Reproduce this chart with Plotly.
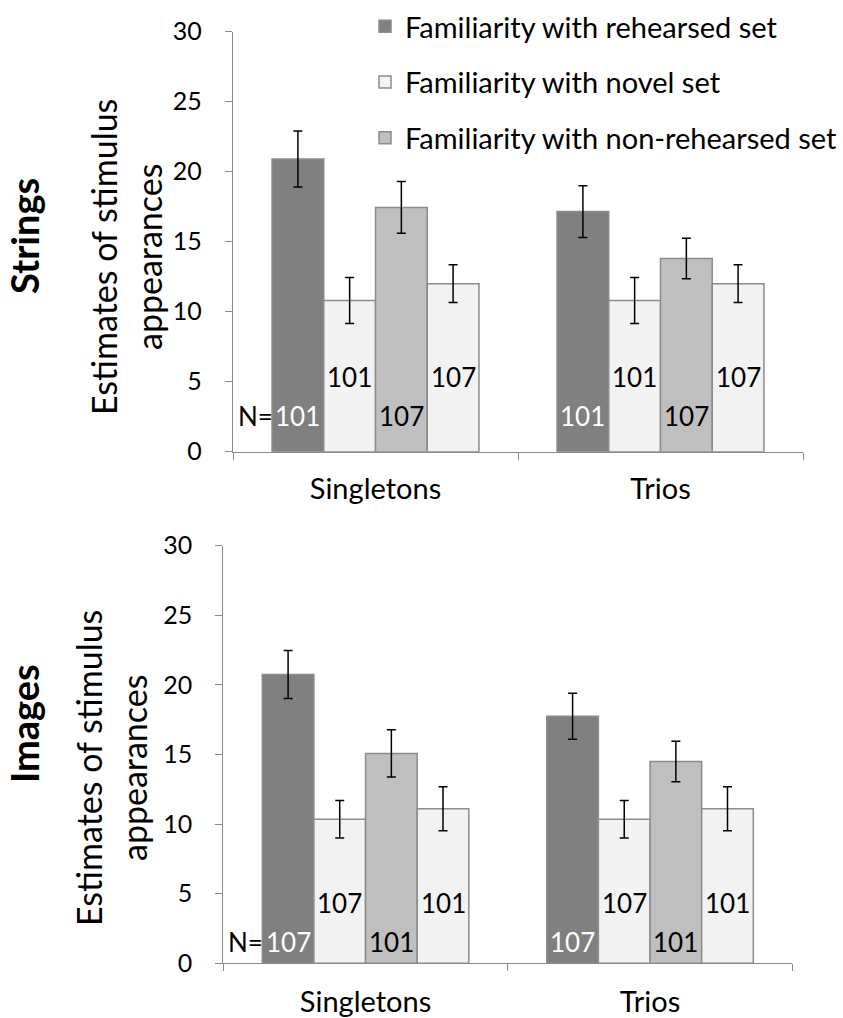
import plotly.graph_objects as go

categories = ["Singletons", "Trios"]
series_names = ["Familiarity with rehearsed set", "Familiarity with novel set",
                "Familiarity with non-rehearsed set", "Familiarity with novel set"]
series_colors = ["#808080", "#F2F2F2", "#BFBFBF", "#F2F2F2"]
series_show_legend = [True, True, True, False]

strings_rehearsed = [20.9, 17.15]
strings_rehearsed_err = [2.0, 1.85]
strings_novel_a = [10.8, 10.8]
strings_novel_a_err = [1.65, 1.65]
strings_nonrehearsed = [17.45, 13.8]
strings_nonrehearsed_err = [1.85, 1.45]
strings_novel_b = [12.0, 12.0]
strings_novel_b_err = [1.35, 1.35]
strings_n = ["101", "101", "107", "107"]

images_rehearsed = [20.75, 17.75]
images_rehearsed_err = [1.72, 1.65]
images_novel_a = [10.35, 10.35]
images_novel_a_err = [1.35, 1.35]
images_nonrehearsed = [15.08, 14.5]
images_nonrehearsed_err = [1.7, 1.46]
images_novel_b = [11.1, 11.1]
images_novel_b_err = [1.58, 1.58]
images_n = ["107", "107", "101", "101"]

y_ticks = [0, 5, 10, 15, 20, 25, 30]
y_title_lines = ["Estimates of stimulus", "appearances"]
panel_labels = ["Strings", "Images"]

FONT = "Lato"
FS_TICK = 25
FS_NUM = 26
FS_TXT = 29
FS_YTITLE = 34
FS_PANEL = 38
AXIS_COLOR = "#898989"
BAR_LINE = "#8C8C8C"
BARGAP = 0.274
W, H = 843, 1018

fig = go.Figure()

panels = [
    ("x", "y", [strings_rehearsed, strings_novel_a, strings_nonrehearsed, strings_novel_b],
     [strings_rehearsed_err, strings_novel_a_err, strings_nonrehearsed_err, strings_novel_b_err]),
    ("x2", "y2", [images_rehearsed, images_novel_a, images_nonrehearsed, images_novel_b],
     [images_rehearsed_err, images_novel_a_err, images_nonrehearsed_err, images_novel_b_err]),
]

for p, (xa, ya, vals, errs) in enumerate(panels):
    for i in range(4):
        fig.add_trace(go.Bar(
            x=categories, y=vals[i], xaxis=xa, yaxis=ya,
            name=series_names[i],
            marker=dict(color=series_colors[i], line=dict(color=BAR_LINE, width=1.5)),
            error_y=dict(type="data", array=errs[i], color="black", thickness=1.5, width=4.5),
            showlegend=(p == 0 and series_show_legend[i]),
            legendgroup=f"g{i}",
        ))

w = 1 - BARGAP
offsets = [(-3 + 2 * k) * w / 8 for k in range(4)]

annotations = []
label_cfg = [
    ("x", "y", strings_n, 2.55, 5.36),
    ("x2", "y2", images_n, 1.55, 4.35),
]
for xa, ya, nlist, low, high in label_cfg:
    for ci in range(len(categories)):
        for k in range(4):
            yv = low if k in (0, 2) else high
            annotations.append(dict(
                x=ci + offsets[k], y=yv, xref=xa, yref=ya, text=nlist[k], showarrow=False,
                font=dict(family=FONT, size=FS_NUM, color="white" if k == 0 else "black"),
                xanchor="center", yanchor="middle"))
    annotations.append(dict(
        x=offsets[0] - w / 8, y=low, xref=xa, yref=ya, text="N=", showarrow=False,
        font=dict(family=FONT, size=FS_NUM, color="black"), xanchor="right", yanchor="middle", xshift=3))

# (line1 x, line2 x, center y, panel-label x, panel-label y) in pixels
title_pos = [(103, 148, 257, 24, 236), (88, 133, 768, 24, 724)]
for (l1x, l2x, cy, px, py), lab in zip(title_pos, panel_labels):
    for lx, txt in zip((l1x, l2x), y_title_lines):
        annotations.append(dict(
            x=lx / W, y=1 - cy / H, xref="paper", yref="paper",
            text=txt, showarrow=False, textangle=-90,
            font=dict(family=FONT, size=FS_YTITLE, color="black"),
            xanchor="center", yanchor="middle"))
    annotations.append(dict(
        x=px / W, y=1 - py / H, xref="paper", yref="paper",
        text="<b>" + lab + "</b>", showarrow=False, textangle=-90,
        font=dict(family=FONT, size=FS_PANEL, color="black"), xanchor="center", yanchor="middle"))

axis_common = dict(showline=True, linecolor=AXIS_COLOR, linewidth=1.3, ticks="outside",
                   ticklen=7, tickcolor=AXIS_COLOR, tickwidth=1.3, showgrid=False, zeroline=False,
                   automargin=False)
xfont = dict(family=FONT, size=FS_TXT, color="black")
yfont = dict(family=FONT, size=FS_TICK, color="black")

fig.update_layout(
    width=W, height=H,
    margin=dict(l=0, r=0, t=0, b=0, autoexpand=False),
    paper_bgcolor="white", plot_bgcolor="white",
    barmode="group", bargap=BARGAP, bargroupgap=0,
    font=dict(family=FONT, size=FS_TXT, color="black"),
    xaxis=dict(domain=[233 / W, 803 / W], anchor="y", type="category",
               tickson="boundaries", tickfont=xfont, ticklabelstandoff=11, **axis_common),
    yaxis=dict(domain=[1 - 451.7 / H, 1 - 31.7 / H], anchor="x", range=[0, 30],
               tickvals=y_ticks, tickfont=yfont, ticklabelstandoff=18, **axis_common),
    xaxis2=dict(domain=[223.3 / W, 792.3 / W], anchor="y2", type="category",
                tickson="boundaries", tickfont=xfont, ticklabelstandoff=13, **axis_common),
    yaxis2=dict(domain=[1 - 963.3 / H, 1 - 545.7 / H], anchor="x2", range=[0, 30],
                tickvals=y_ticks, tickfont=yfont, ticklabelstandoff=18, **axis_common),
    legend=dict(x=365 / W, y=0.999, xanchor="left", yanchor="top",
                font=dict(family=FONT, size=FS_TXT, color="black"),
                bgcolor="rgba(0,0,0,0)", traceorder="grouped", tracegroupgap=15),
    annotations=annotations,
)

fig.write_html("out.html", config={"displayModeBar": False},
               post_script="document.body.style.margin='0px';")
